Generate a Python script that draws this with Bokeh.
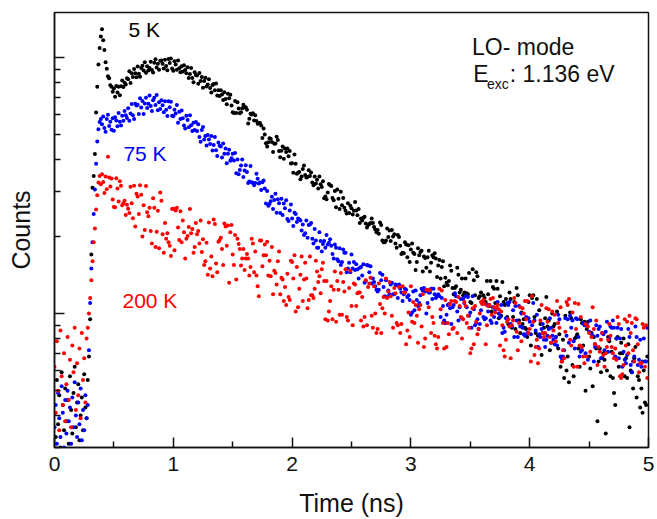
from bokeh.plotting import figure
from bokeh.models import Range1d, FixedTicker, Label
from bokeh.embed import file_html
from bokeh.resources import INLINE

# ---- data, one value per 0.01 ns channel ----
STEP_NS = 0.01

black_5K = [
    41, 33, 55, 37, 48, 30, 59, 44, 35, 51,
    38, 46, 31, 57, 42, 34, 49, 62, 36, 45,
    53, 32, 40, 47, 35, 58, 43, 39, 55, 68,
    95, 170, 310, 345, 420, 610, 770, 940, 1090, 1210,
    1290, 1170, 1070, 960, 905, 845, 830, 780, 770, 735,
    757, 703, 775, 731, 770, 712, 773, 813, 768, 798,
    785, 831, 823, 884, 796, 868, 840, 903, 868, 838,
    924, 865, 842, 910, 930, 891, 960, 872, 925, 890,
    911, 964, 894, 874, 954, 985, 915, 946, 897, 973,
    975, 947, 906, 980, 928, 893, 988, 953, 992, 906,
    888, 968, 940, 896, 974, 909, 876, 926, 883, 933,
    895, 869, 916, 832, 863, 910, 832, 801, 877, 856,
    851, 791, 871, 811, 840, 762, 811, 834, 771, 785,
    823, 760, 731, 781, 788, 746, 793, 711, 745, 708,
    746, 718, 683, 732, 689, 658, 723, 693, 716, 650,
    612, 607, 677, 607, 669, 633, 606, 611, 634, 654,
    639, 640, 626, 553, 577, 604, 599, 606, 568, 595,
    566, 552, 554, 555, 543, 485, 529, 501, 463, 450,
    467, 484, 482, 468, 428, 461, 462, 491, 477, 432,
    408, 433, 450, 403, 441, 428, 441, 412, 432, 386,
    387, 355, 418, 385, 352, 355, 357, 335, 343, 367,
    379, 348, 340, 342, 363, 345, 356, 325, 317, 343,
    322, 333, 308, 343, 320, 312, 329, 282, 287, 280,
    297, 321, 317, 315, 283, 277, 301, 260, 305, 281,
    256, 299, 265, 283, 259, 252, 246, 270, 247, 264,
    258, 244, 252, 273, 253, 242, 256, 226, 235, 231,
    237, 239, 225, 217, 222, 224, 226, 235, 226, 218,
    213, 208, 212, 205, 227, 222, 193, 190, 190, 193,
    215, 199, 211, 192, 212, 200, 204, 188, 181, 203,
    199, 184, 171, 173, 172, 190, 186, 166, 185, 159,
    178, 188, 173, 171, 148, 159, 180, 169, 174, 176,
    146, 167, 165, 151, 166, 176, 146, 158, 169, 166,
    172, 164, 139, 154, 162, 137, 152, 160, 128, 138,
    132, 129, 134, 154, 147, 126, 119, 126, 128, 151,
    142, 121, 124, 137, 118, 121, 137, 120, 119, 144,
    111, 110, 149, 135, 118, 145, 140, 115, 117, 121,
    110, 118, 115, 111, 134, 119, 107, 134, 102, 127,
    125, 110, 134, 125, 96, 117, 98, 133, 111, 108,
    114, 97, 91, 121, 114, 88, 97, 111, 87, 126,
    118, 94, 84, 101, 91, 95, 88, 87, 81, 111,
    118, 75, 115, 118, 97, 84, 114, 82, 103, 91,
    69, 84, 88, 96, 116, 89, 94, 72, 77, 100,
    89, 91, 81, 102, 73, 83, 62, 65, 79, 56,
    98, 60, 68, 54, 101, 96, 63, 57, 80, 81,
    83, 73, 62, 95, 92, 75, 93, 50, 87, 93,
    68, 61, 84, 52, 81, 76, 73, 38, 65, 73,
    59, 67, 70, 66, 34, 60, 81, 78, 57, 71,
    56, 49, 44, 80, 81, 62, 70, 77, 70, 80,
    57, 67, 56, 76, 36, 60, 59, 51, 67, 74,
    47, 57, 55, 43, 51, 41, 60, 45, 44, 68]

blue_75K = [
    36, 44, 31, 49, 39, 33, 52, 41, 30, 46,
    34, 50, 38, 43, 31, 47, 36, 54, 40, 33,
    45, 37, 51, 32, 42, 35, 48, 39, 44, 72,
    110, 150, 190, 245, 305, 385, 470, 525, 560, 575,
    549, 589, 531, 513, 576, 598, 540, 562, 522, 580,
    518, 585, 568, 539, 608, 561, 543, 593, 566, 618,
    595, 581, 634, 566, 605, 659, 595, 575, 660, 650,
    655, 602, 693, 638, 677, 602, 662, 697, 636, 660,
    711, 647, 619, 682, 697, 653, 715, 623, 669, 630,
    681, 651, 612, 675, 626, 591, 675, 640, 672, 593,
    590, 625, 605, 653, 557, 614, 576, 622, 580, 543,
    529, 593, 570, 535, 596, 544, 517, 556, 521, 560,
    517, 549, 490, 469, 521, 536, 479, 494, 454, 499,
    479, 460, 494, 434, 456, 490, 435, 413, 466, 453,
    449, 407, 462, 421, 441, 387, 421, 437, 395, 404,
    421, 396, 424, 353, 400, 350, 364, 379, 400, 342,
    362, 380, 357, 324, 328, 377, 326, 324, 317, 324,
    352, 336, 322, 325, 304, 326, 331, 308, 269, 301,
    264, 268, 275, 286, 256, 278, 294, 248, 280, 270,
    247, 281, 243, 269, 258, 277, 234, 230, 253, 267,
    235, 220, 248, 245, 228, 235, 233, 231, 211, 223,
    203, 206, 231, 198, 222, 223, 226, 196, 188, 214,
    193, 181, 181, 208, 192, 175, 187, 192, 181, 203,
    186, 189, 195, 184, 171, 164, 186, 181, 163, 160,
    180, 155, 159, 178, 173, 173, 145, 150, 158, 145,
    170, 150, 159, 148, 156, 149, 137, 151, 152, 141,
    156, 132, 134, 155, 154, 145, 153, 131, 137, 133,
    128, 124, 122, 124, 144, 135, 142, 127, 117, 135,
    116, 123, 119, 130, 132, 119, 119, 130, 129, 115,
    130, 125, 121, 112, 119, 125, 124, 116, 118, 113,
    99, 101, 122, 103, 123, 113, 107, 110, 118, 125,
    123, 126, 122, 100, 110, 121, 121, 125, 114, 125,
    119, 115, 117, 119, 117, 97, 115, 107, 94, 92,
    99, 108, 109, 105, 91, 106, 108, 120, 117, 102,
    94, 106, 114, 96, 114, 110, 117, 106, 116, 98,
    101, 88, 117, 104, 90, 92, 95, 87, 91, 103,
    111, 97, 95, 96, 108, 102, 108, 94, 92, 106,
    97, 104, 92, 111, 100, 97, 108, 84, 88, 85,
    96, 110, 108, 111, 91, 89, 103, 81, 107, 94,
    81, 107, 89, 100, 88, 83, 82, 97, 84, 96,
    93, 83, 90, 110, 94, 86, 99, 74, 83, 81,
    87, 91, 79, 74, 79, 82, 87, 96, 88, 82,
    79, 76, 81, 75, 99, 95, 68, 67, 68, 72,
    96, 82, 95, 77, 98, 88, 94, 78, 73, 96,
    95, 81, 68, 71, 72, 92, 90, 70, 91, 66,
    85, 94, 83, 82, 65, 74, 90, 82, 87, 89,
    67, 84, 83, 72, 85, 93, 71, 80, 89, 88,
    94, 88, 68, 80, 88, 67, 80, 87, 62, 71,
    66, 64, 69, 87, 81, 63, 59, 65, 68, 89,
    81, 63, 66, 79, 62, 65, 80, 65, 65, 88]

red_200K = [
    62, 41, 78, 50, 35, 86, 57, 44, 70, 38,
    53, 81, 46, 66, 36, 75, 59, 88, 42, 64,
    48, 73, 39, 84, 55, 67, 45, 80, 88, 100,
    115, 135, 160, 190, 215, 255, 290, 325, 345, 320,
    350, 327, 296, 343, 306, 410, 340, 314, 337, 279,
    261, 260, 338, 308, 274, 329, 316, 265, 270, 276,
    243, 266, 257, 247, 313, 270, 236, 316, 219, 294,
    287, 245, 317, 291, 200, 265, 212, 315, 249, 240,
    259, 210, 188, 282, 259, 182, 209, 252, 180, 297,
    276, 204, 173, 226, 196, 206, 190, 184, 168, 256,
    257, 177, 253, 259, 217, 194, 251, 190, 231, 208,
    164, 196, 201, 218, 256, 206, 214, 173, 182, 226,
    204, 210, 188, 231, 174, 195, 155, 160, 189, 142,
    227, 150, 167, 140, 233, 224, 157, 145, 191, 194,
    198, 179, 155, 225, 219, 184, 221, 132, 208, 222,
    170, 155, 203, 136, 196, 187, 179, 154, 164, 179,
    148, 164, 171, 164, 141, 152, 196, 188, 145, 175,
    141, 128, 117, 193, 193, 153, 169, 186, 169, 191,
    141, 161, 140, 182, 119, 147, 144, 130, 160, 175,
    119, 138, 136, 112, 127, 108, 143, 116, 113, 161,
    159, 137, 169, 102, 152, 106, 125, 142, 167, 112,
    136, 158, 137, 105, 113, 167, 118, 118, 115, 125,
    161, 146, 133, 140, 120, 149, 158, 134, 95, 134,
    94, 102, 112, 128, 95, 124, 146, 93, 134, 124,
    99, 144, 99, 133, 122, 149, 97, 94, 126, 147,
    107, 90, 131, 130, 107, 120, 121, 121, 94, 116,
    89, 97, 135, 90, 127, 131, 138, 98, 88, 128,
    100, 84, 87, 131, 109, 84, 105, 116, 100, 137,
    115, 122, 133, 117, 98, 88, 126, 120, 92, 90,
    127, 84, 91, 128, 121, 121, 76, 86, 101, 81,
    128, 93, 111, 92, 108, 98, 77, 104, 108, 89,
    119, 74, 80, 124, 124, 106, 123, 84, 97, 92,
    82, 76, 73, 81, 125, 104, 123, 92, 73, 113,
    74, 92, 83, 109, 112, 87, 88, 112, 111, 84,
    116, 107, 97, 80, 95, 111, 107, 92, 98, 88,
    70, 73, 105, 76, 107, 93, 83, 87, 100, 111,
    109, 113, 109, 76, 90, 107, 108, 114, 99, 115,
    106, 101, 105, 108, 104, 75, 102, 90, 72, 68,
    79, 93, 95, 89, 67, 90, 94, 115, 110, 85,
    72, 92, 106, 78, 105, 100, 112, 95, 112, 84,
    87, 65, 117, 93, 69, 74, 79, 64, 73, 94,
    108, 84, 81, 84, 105, 93, 104, 81, 77, 102,
    86, 99, 78, 112, 92, 88, 106, 65, 72, 67,
    85, 111, 108, 114, 79, 75, 101, 62, 110, 87,
    62, 109, 75, 97, 74, 68, 64, 91, 68, 89,
    84, 71, 81, 106, 87, 76, 94, 63, 74, 71,
    79, 84, 69, 62, 70, 74, 79, 91, 82, 74,
    70, 67, 73, 66, 97, 91, 57, 56, 58, 63,
    95, 75, 93, 70, 98, 84, 92, 72, 65, 96,
    95, 76, 59, 64, 64, 91, 88, 62, 90, 56]

x_ticks = [0, 1, 2, 3, 4, 5]
x_minor_ticks = [0.5, 1.5, 2.5, 3.5, 4.5]
y_major_ticks = [100, 1000]
y_minor_ticks = [30, 40, 50, 60, 70, 80, 90, 200, 300, 400, 500, 600, 700, 800, 900]

series = [("5 K", black_5K, "#000000"), ("75 K", blue_75K, "#0000ff"), ("200 K", red_200K, "#ff0000")]


def channel_times(vals):
    return [round(STEP_NS * i, 3) for i in range(len(vals))]


FONT = "Liberation Sans"
INK = "#111111"

p = figure(width=657, height=519, output_backend="svg", toolbar_location=None,
           x_range=Range1d(0, 5), y_range=Range1d(30, 1500), y_axis_type="log",
           min_border_left=54, min_border_right=9, min_border_top=12, min_border_bottom=71)
p.xgrid.visible = False
p.ygrid.visible = False
p.outline_line_color = INK
p.outline_line_width = 1.5
p.background_fill_color = "white"
p.border_fill_color = "white"

for name, vals, col in series:
    p.scatter(channel_times(vals), vals, size=4, fill_color=col, line_color=None)

for a in (p.xaxis[0], p.yaxis[0]):
    a.major_tick_in = 10
    a.major_tick_out = 0
    a.minor_tick_in = 6
    a.minor_tick_out = 0
    a.axis_line_width = 1.5
    a.axis_line_color = INK
    a.major_tick_line_width = 1.5
    a.minor_tick_line_width = 1.5
    a.major_tick_line_color = INK
    a.minor_tick_line_color = INK
    a.axis_label_text_font = FONT
    a.axis_label_text_font_size = "25px"
    a.axis_label_text_font_style = "normal"
    a.axis_label_text_color = INK

xa = p.xaxis[0]
xa.ticker = FixedTicker(ticks=x_ticks, minor_ticks=x_minor_ticks)
xa.major_label_text_font = FONT
xa.major_label_text_font_size = "21px"
xa.major_label_text_color = INK
xa.major_label_standoff = 9
xa.axis_label = "Time (ns)"
xa.axis_label_standoff = 15

ya = p.yaxis[0]
ya.ticker = FixedTicker(ticks=y_major_ticks, minor_ticks=y_minor_ticks)
ya.major_label_text_font_size = "1px"
ya.major_label_text_alpha = 0
ya.major_label_standoff = 0
ya.axis_label = "Counts"
ya.axis_label_standoff = 20


def label(x, y, text, color, size, align="left"):
    p.add_layout(Label(x=x, y=y, text=text, text_color=color, text_font=FONT,
                       text_font_size=size, text_baseline="alphabetic", text_align=align))


label(0.622, 1285, "5 K", "#000000", "21px")
label(0.58, 423, "75 K", "#0000ff", "21px")
label(0.572, 113, "200 K", "#ff0000", "21px")
label(3.515, 1104, "LO- mode", INK, "23px")
label(3.525, 866, "E", INK, "23px")
label(3.64, 792, "exc", INK, "14px")
label(3.832, 866, ": 1.136 eV", INK, "23px")

open("out.html", "w").write(file_html(p, INLINE))
